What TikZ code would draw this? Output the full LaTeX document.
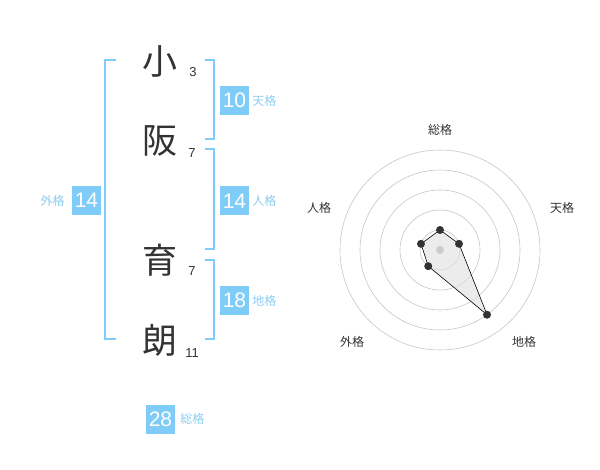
\documentclass[tikz,border=0pt]{standalone}
\usepackage{fontspec}
\setmainfont{Liberation Sans}
\newfontfamily\jp{Noto Sans CJK JP}
\usetikzlibrary{positioning}
\definecolor{kakublue}{HTML}{80CCF8}
\definecolor{kakutext}{HTML}{8ACDF2}
\definecolor{inkgray}{HTML}{333333}
\begin{document}
\begin{tikzpicture}[x=1pt, y=-1pt,
  kanji/.style={font=\jp\fontsize{35}{35}\selectfont, text=inkgray, inner sep=0pt},
  strokes/.style={font=\fontsize{13}{13}\selectfont, text=inkgray, inner sep=0pt},
  kakubox/.style={fill=kakublue, text=white, minimum size=29pt, inner sep=0pt, font=\fontsize{21}{21}\selectfont},
  kakuname/.style={font=\jp\fontsize{12}{12}\selectfont, text=kakutext, inner sep=0pt},
  bracket/.style={draw=kakublue, line width=1.5pt},
  ring/.style={draw=black!22, line width=0.6pt},
  axislabel/.style={font=\jp\fontsize{12}{12}\selectfont, text=inkgray, inner sep=0pt},
  dot/.style={circle, fill=inkgray, minimum size=8pt, inner sep=0pt}]
  \useasboundingbox (0,0) rectangle (600,470);
  % name characters and stroke counts
  \node[kanji] (k1) at (160,61) {小};
  \node[kanji] (k2) at (160,141) {阪};
  \node[kanji] (k3) at (160,260) {育};
  \node[kanji] (k4) at (160,340) {朗};
  \node[strokes] (s1) at (193,72) {3};
  \node[strokes] (s2) at (192,153) {7};
  \node[strokes] (s3) at (192,271) {7};
  \node[strokes] (s4) at (192,353) {11};
  % brackets
  \draw[bracket] (116,60) -- (105,60) -- (105,339) -- (116,339);
  \draw[bracket] (205,60) -- (214,60) -- (214,139) -- (205,139);
  \draw[bracket] (205,149) -- (214,149) -- (214,249) -- (205,249);
  \draw[bracket] (205,260) -- (214,260) -- (214,339) -- (205,339);
  % fortune boxes
  \node[kakubox] (ten) at (234.5,100.5) {10};
  \node[kakuname, right=3pt of ten] (tenname) {天格};
  \node[kakubox] (jin) at (234.5,201) {14};
  \node[kakuname, right=3pt of jin] (jinname) {人格};
  \node[kakubox] (chi) at (234.5,300.5) {18};
  \node[kakuname, right=3pt of chi] (chiname) {地格};
  \node[kakubox] (gai) at (86.5,200.5) {14};
  \node[kakuname, left=7pt of gai] (gainame) {外格};
  \node[kakubox] (so) at (160.5,419) {28};
  \node[kakuname, right=5pt of so] (soname) {総格};
  % radar chart
  \coordinate (radar) at (440,250);
  \foreach \r in {20,40,...,100}
    \draw[ring] (radar) circle (\r pt);
  \foreach \nm/\ang/\val in {so/90/20, ten/18/20, chi/-54/80, gai/-126/20, jin/162/20}
    \coordinate (q\nm) at ([shift={(\ang:\val pt)}]radar);
  \fill[black!12, fill opacity=0.6] (qso) -- (qten) -- (qchi) -- (qgai) -- (qjin) -- cycle;
  \fill[black!20] (radar) circle (4pt);
  \draw[black, line width=0.6pt] (qso) -- (qten) -- (qchi) -- (qgai) -- (qjin) -- cycle;
  \foreach \nm in {so,ten,chi,gai,jin}
    \node[dot] (p\nm) at (q\nm) {};
  \foreach \nm/\txt/\x/\y in {so/総格/440/130, ten/天格/562/208, chi/地格/524/342, gai/外格/352/342, jin/人格/319/208}
    \node[axislabel] (l\nm) at (\x,\y) {\txt};
\end{tikzpicture}
\end{document}
